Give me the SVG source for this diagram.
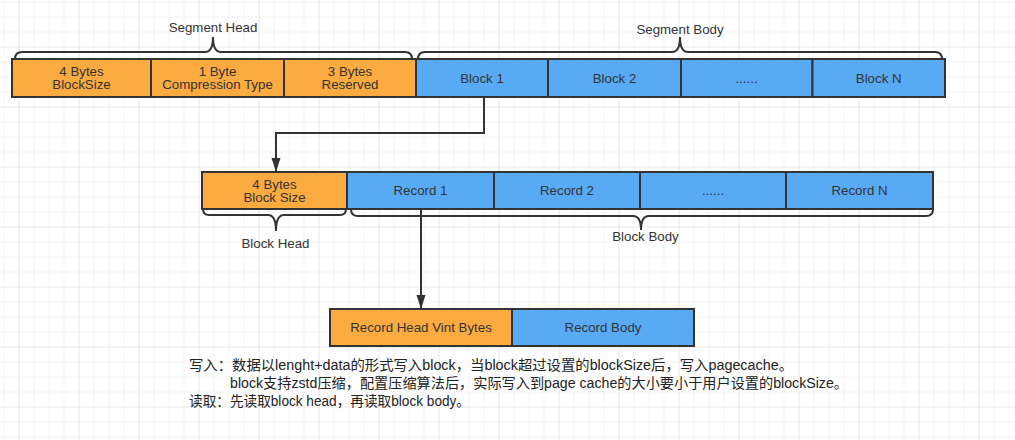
<svg xmlns="http://www.w3.org/2000/svg" width="1015" height="440" viewBox="0 0 1015 440">
<defs>
<pattern id="gMinor" patternUnits="userSpaceOnUse" x="3.5" y="1.5" width="15" height="15">
<path d="M0,0 V15 M0,0 H15" fill="none" stroke="#ececec" stroke-width="1"/>
</pattern>
<pattern id="gMajor" patternUnits="userSpaceOnUse" x="18.5" y="46.5" width="60" height="60">
<path d="M0,0 V60 M0,0 H60" fill="none" stroke="#dedede" stroke-width="1"/>
</pattern>
<marker id="arr" markerUnits="userSpaceOnUse" markerWidth="15" markerHeight="10" refX="14" refY="4.5" orient="auto">
<path d="M0,0 L14,4.5 L0,9 z" fill="#333"/>
</marker>
</defs>
<style>
.o{fill:#fcab40;stroke:#333;stroke-width:2}
.b{fill:#58aaf4;stroke:#333;stroke-width:2}
.t{font-family:"Liberation Sans","Noto Sans CJK SC",sans-serif;font-size:13.3px;fill:#333;text-anchor:middle}
.br{fill:none;stroke:#333;stroke-width:2}
.c{fill:none;stroke:#333;stroke-width:2}
.n{font-family:"Liberation Sans","Noto Sans CJK SC",sans-serif;font-size:14px;fill:#222}
</style>
<rect width="1015" height="440" fill="#ffffff"/>
<rect width="1015" height="440" fill="url(#gMinor)"/>
<rect width="1015" height="440" fill="url(#gMajor)"/>

<g id="segment-head">
<rect class="o" x="12" y="59" width="139" height="38"/>
<text class="t" x="81.5" y="75.5">4 Bytes</text>
<text class="t" x="81.5" y="88.5">BlockSize</text>
<rect class="o" x="151" y="59" width="133" height="38"/>
<text class="t" x="217.5" y="75.5">1 Byte</text>
<text class="t" x="217.5" y="88.5">Compression Type</text>
<rect class="o" x="284" y="59" width="132" height="38"/>
<text class="t" x="350" y="75.5">3 Bytes</text>
<text class="t" x="350" y="88.5">Reserved</text>
<path class="br" d="M15,59 Q15,52 22,52 H205 Q213,52 213,37 Q213,52 221,52 H405 Q412,52 412,59"/>
<text class="t" x="213" y="31.5">Segment Head</text>
</g>

<g id="segment-body">
<rect class="b" x="416" y="59" width="132" height="38"/>
<text class="t" x="482" y="82.5">Block 1</text>
<rect class="b" x="548" y="59" width="133" height="38"/>
<text class="t" x="614.5" y="82.5">Block 2</text>
<rect class="b" x="681" y="59" width="131.5" height="38"/>
<text class="t" x="746.5" y="82.5">......</text>
<rect class="b" x="812.5" y="59" width="132.5" height="38"/>
<text class="t" x="878.7" y="82.5">Block N</text>
<path class="br" d="M418,59 Q418,52 425,52 H672 Q680,52 680,37 Q680,52 688,52 H935 Q942,52 942,59"/>
<text class="t" x="680" y="33.5">Segment Body</text>
</g>

<g id="block-head">
<rect class="o" x="202" y="172" width="145" height="37"/>
<text class="t" x="274.5" y="188.5">4 Bytes</text>
<text class="t" x="274.5" y="201.5">Block Size</text>
<path class="br" d="M203,209 Q203,215 209,215 H268 Q276,215 276,231 Q276,215 284,215 H340 Q346,215 346,209"/>
<text class="t" x="275.5" y="247.5">Block Head</text>
</g>

<g id="block-body">
<rect class="b" x="347" y="172" width="147" height="37"/>
<text class="t" x="420.5" y="194.5">Record 1</text>
<rect class="b" x="494" y="172" width="146" height="37"/>
<text class="t" x="567" y="194.5">Record 2</text>
<rect class="b" x="640" y="172" width="146" height="37"/>
<text class="t" x="713" y="194.5">......</text>
<rect class="b" x="786" y="172" width="147" height="37"/>
<text class="t" x="859.5" y="194.5">Record N</text>
<path class="br" d="M351,209 Q351,216 358,216 H633 Q641,216 641,230 Q641,216 649,216 H926 Q933,216 933,209"/>
<text class="t" x="645.5" y="241">Block Body</text>
</g>

<g id="record">
<rect class="o" x="330" y="309" width="182" height="37"/>
<text class="t" x="421" y="331.5">Record Head Vint Bytes</text>
<rect class="b" x="512" y="309" width="182" height="37"/>
<text class="t" x="603" y="331.5">Record Body</text>
</g>

<g id="connectors">
<path class="c" d="M484,97 V133 H276 V172" marker-end="url(#arr)"/>
<path class="c" d="M421,209 V309" marker-end="url(#arr)"/>
</g>

<g id="notes">
<text class="n" x="189" y="370" textLength="604" lengthAdjust="spacingAndGlyphs">写入：数据以lenght+data的形式写入block，当block超过设置的blockSize后，写入pagecache。</text>
<text class="n" x="230" y="388" textLength="618" lengthAdjust="spacingAndGlyphs">block支持zstd压缩，配置压缩算法后，实际写入到page cache的大小要小于用户设置的blockSize。</text>
<text class="n" x="189" y="406" textLength="281" lengthAdjust="spacingAndGlyphs">读取：先读取block head，再读取block body。</text>
</g>
</svg>
